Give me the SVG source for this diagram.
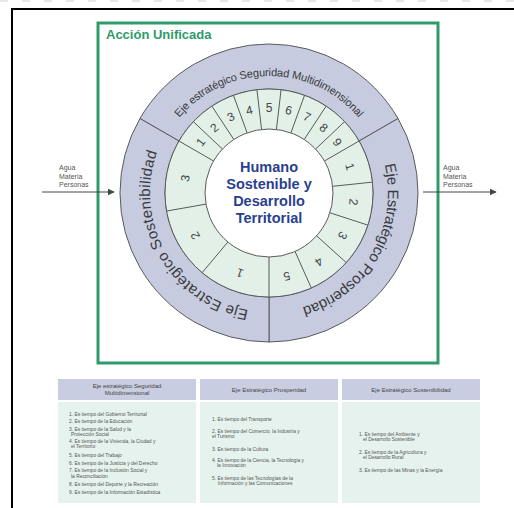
<svg xmlns="http://www.w3.org/2000/svg" width="514" height="508" viewBox="0 0 514 508">
<style>
.ring{fill:#c6cbe0;stroke:#5a5a5a;stroke-width:1}
.cell{fill:#e2f0e8;stroke:#5a5a5a;stroke-width:1}
.div{stroke:#5a5a5a;stroke-width:1;fill:none}
.lbl{font-family:"Liberation Sans",Arial,sans-serif;fill:#3a3a3a}
.dig{font-family:"Liberation Sans",Arial,sans-serif;font-size:12px;fill:#444;text-anchor:middle;dominant-baseline:central}
.ctr{font-family:"Liberation Sans",Arial,sans-serif;font-weight:bold;font-size:14.5px;fill:#2a3f8f;text-anchor:middle}
.flow{font-family:"Liberation Sans",Arial,sans-serif;font-size:7px;fill:#555}
.th{fill:#c9cde2}
.tb{fill:#e5f2ed}
.tht{font-family:"Liberation Sans",Arial,sans-serif;font-size:6px;fill:#444;text-anchor:middle}
.tt{font-family:"Liberation Sans",Arial,sans-serif;font-size:4.9px;fill:#555}
</style>
<defs>
<marker id="ah" viewBox="0 0 10 10" refX="9" refY="5" markerWidth="7" markerHeight="7" orient="auto" markerUnits="userSpaceOnUse"><path d="M0,0 L10,5 L0,10 Z" fill="#444"/></marker>
<path id="pSeg" d="M167.68,134.5 A117,117 0 0 1 370.32,134.5"/>
<path id="pPro" d="M372.06,133.5 A119,119 0 0 1 269,312"/>
<path id="pSos" d="M269,312 A119,119 0 0 1 165.94,133.5"/>
</defs>
<rect width="514" height="508" fill="#fff"/>
<line x1="0" y1="1" x2="514" y2="1" stroke="#cfcfcf" stroke-width="1" stroke-dasharray="8,14"/>
<path d="M12,508 V9 H514" fill="none" stroke="#000" stroke-width="2"/>

<g id="accion-unificada">
<rect x="98" y="23" width="340" height="340" fill="#fff" stroke="#2e9b6b" stroke-width="3"/>
<text x="106" y="39" font-family="Liberation Sans,Arial,sans-serif" font-weight="bold" font-size="13" fill="#2e9b6b">Acción Unificada</text>
</g>

<g id="eje-seguridad">
<path class="ring" d="M139.96,118.5 A149,149 0 0 1 398.04,118.5 L359.07,141 A104,104 0 0 0 178.93,141 Z"/>
<text class="lbl" font-size="11"><textPath href="#pSeg" startOffset="50%" text-anchor="middle" textLength="204" lengthAdjust="spacing">Eje estratégico Seguridad Multidimensional</textPath></text>
</g>
<g id="eje-prosperidad">
<path class="ring" d="M398.04,118.5 A149,149 0 0 1 269,342 L269,297 A104,104 0 0 0 359.07,141 Z"/>
<text class="lbl" font-size="15"><textPath href="#pPro" startOffset="50%" text-anchor="middle" textLength="182" lengthAdjust="spacing">Eje Estratégico Prosperidad</textPath></text>
</g>
<g id="eje-sostenibilidad">
<path class="ring" d="M269,342 A149,149 0 0 1 139.96,118.5 L178.93,141 A104,104 0 0 0 269,297 Z"/>
<text class="lbl" font-size="15"><textPath href="#pSos" startOffset="50%" text-anchor="middle" textLength="208" lengthAdjust="spacing">Eje Estratégico Sostenibilidad</textPath></text>
</g>

<g id="anillo-numeros">
<circle class="cell" cx="269" cy="193" r="104"/>
<path class="div" d="M213.57,161 L178.93,141 M222.45,149.08 L193.35,121.63 M233.83,139.53 L211.85,106.11 M247.11,132.86 L233.43,95.27 M261.57,129.43 L256.93,89.71 M276.43,129.43 L281.07,89.71 M290.89,132.86 L304.57,95.27 M304.17,139.53 L326.15,106.11 M315.55,149.08 L344.65,121.63 M324.43,161 L359.07,141 M332.65,186.31 L372.43,182.13 M329.87,212.78 L367.91,225.14 M316.56,235.82 L346.28,262.59 M295.03,251.46 L311.3,288 M269,257 L269,297 M227.86,242.03 L202.15,272.67 M205.97,204.11 L166.58,211.06"/>
<text class="dig" transform="translate(200.8,142.2) rotate(-53.33)">1</text>
<text class="dig" transform="translate(214.4,127.9) rotate(-40)">2</text>
<text class="dig" transform="translate(230.9,117) rotate(-26.67)">3</text>
<text class="dig" transform="translate(249.4,110.3) rotate(-13.33)">4</text>
<text class="dig" transform="translate(269,108)">5</text>
<text class="dig" transform="translate(288.6,110.3) rotate(13.33)">6</text>
<text class="dig" transform="translate(307.1,117) rotate(26.67)">7</text>
<text class="dig" transform="translate(323.6,127.9) rotate(40)">8</text>
<text class="dig" transform="translate(337.2,142.2) rotate(53.33)">9</text>
<text class="dig" transform="translate(349.8,166.7) rotate(72)">1</text>
<text class="dig" transform="translate(353.5,201.9) rotate(96)">2</text>
<text class="dig" transform="translate(342.6,235.5) rotate(120)">3</text>
<text class="dig" transform="translate(319,261.8) rotate(144)">4</text>
<text class="dig" transform="translate(286.7,276.1) rotate(168)">5</text>
<text class="dig" transform="translate(239.9,272.9) rotate(200)">1</text>
<text class="dig" transform="translate(195.4,235.5) rotate(240)">2</text>
<text class="dig" transform="translate(185.3,178.2) rotate(280)">3</text>
</g>

<g id="centro">
<circle cx="269" cy="193" r="64" fill="#fff" stroke="#5a5a5a" stroke-width="1"/>
<text class="ctr" x="269" y="172">Humano</text>
<text class="ctr" x="269" y="189">Sostenible y</text>
<text class="ctr" x="269" y="206">Desarrollo</text>
<text class="ctr" x="269" y="223">Territorial</text>
</g>

<g id="conectores">
<line x1="42" y1="192" x2="114" y2="192" stroke="#444" stroke-width="1" marker-end="url(#ah)"/>
<line x1="423" y1="192" x2="496" y2="192" stroke="#444" stroke-width="1" marker-end="url(#ah)"/>
</g>
<g id="entrada">
<text class="flow" x="59" y="170">Agua</text>
<text class="flow" x="59" y="178.5">Materia</text>
<text class="flow" x="59" y="187">Personas</text>
</g>
<g id="salida">
<text class="flow" x="443" y="170">Agua</text>
<text class="flow" x="443" y="178.5">Materia</text>
<text class="flow" x="443" y="187">Personas</text>
</g>

<g id="tabla-seguridad">
<rect class="th" x="58" y="379" width="138" height="21"/>
<rect class="tb" x="58" y="402" width="138" height="101"/>
<text class="tht" x="127" y="388">Eje estratégico Seguridad</text>
<text class="tht" x="127" y="395">Multidimensional</text>
<text class="tt" x="69" y="415.5">1. Es tiempo del Gobierno Territorial</text>
<text class="tt" x="69" y="423">2. Es tiempo de la  Educación</text>
<text class="tt" x="69" y="430.5">3. Es tiempo de la Salud y la</text>
<text class="tt" x="71" y="436.2">Protección Social</text>
<text class="tt" x="69" y="442.5">4. Es tiempo de la Vivienda, la Ciudad y</text>
<text class="tt" x="71" y="448.2">el Territorio</text>
<text class="tt" x="69" y="457">5. Es tiempo del Trabajo</text>
<text class="tt" x="69" y="465">6. Es tiempo de la Justicia y del Derecho</text>
<text class="tt" x="69" y="472">7. Es tiempo de la Inclusión Social y</text>
<text class="tt" x="71" y="477.7">la Reconciliación</text>
<text class="tt" x="69" y="486">8. Es tiempo del Deporte y la Recreación</text>
<text class="tt" x="69" y="494">9. Es tiempo de la Información Estadística</text>
</g>

<g id="tabla-prosperidad">
<rect class="th" x="200" y="379" width="138" height="21"/>
<rect class="tb" x="200" y="402" width="138" height="101"/>
<text class="tht" x="269" y="392">Eje Estratégico Prosperidad</text>
<text class="tt" x="212" y="421">1. Es tiempo del Transporte</text>
<text class="tt" x="212" y="432.5">2. Es tiempo del Comercio, la Industria y</text>
<text class="tt" x="212" y="438.2">el Turismo</text>
<text class="tt" x="212" y="451">3. Es tiempo de la Cultura</text>
<text class="tt" x="212" y="461.5">4. Es tiempo de la Ciencia, la Tecnología  y</text>
<text class="tt" x="217" y="467.2">la Innovación</text>
<text class="tt" x="212" y="479.5">5. Es tiempo de las Tecnologías de la</text>
<text class="tt" x="218" y="485.2">Información y las Comunicaciones</text>
</g>

<g id="tabla-sostenibilidad">
<rect class="th" x="342" y="379" width="138" height="21"/>
<rect class="tb" x="342" y="402" width="138" height="101"/>
<text class="tht" x="411" y="392">Eje Estratégico Sostenibilidad</text>
<text class="tt" x="359" y="435.5">1. Es tiempo del Ambiente y</text>
<text class="tt" x="363" y="441.2">el Desarrollo Sostenible</text>
<text class="tt" x="359" y="453.5">2. Es tiempo de la Agricultura y</text>
<text class="tt" x="363" y="459.2">el Desarrollo Rural</text>
<text class="tt" x="359" y="472">3. Es tiempo de las Minas y  la Energía</text>
</g>
</svg>
